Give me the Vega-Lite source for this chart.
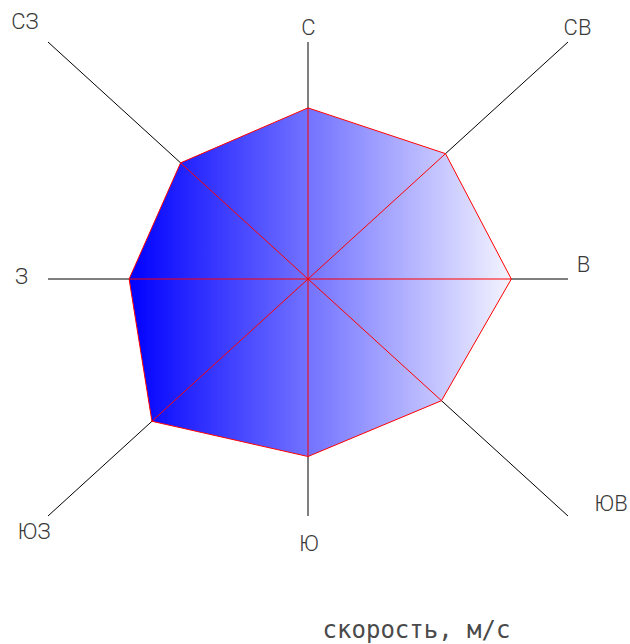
{
  "$schema": "https://vega.github.io/schema/vega-lite/v6.json",
  "width": 520,
  "height": 474,
  "autosize": {"type": "none"},
  "padding": {"left": 48, "top": 42, "right": 62, "bottom": 128},
  "background": "white",
  "config": {
    "view": {"stroke": null},
    "axisX": {"domain": false, "ticks": false, "labels": false, "grid": false,
      "titleX": 368, "titleY": 114, "titleAlign": "center", "titleBaseline": "middle",
      "titleFont": "DejaVu Sans Mono", "titleFontSize": 24, "titleFontWeight": "normal", "titleColor": "#4a4a4a"}
  },
  "datasets": {
    "wind": [
      {"dir": "С", "angle": 0, "speed": 7.22, "idx": 0},
      {"dir": "СВ", "angle": 45, "speed": 7.48, "idx": 1},
      {"dir": "В", "angle": 90, "speed": 7.82, "idx": 2},
      {"dir": "ЮВ", "angle": 135, "speed": 7.26, "idx": 3},
      {"dir": "Ю", "angle": 180, "speed": 7.49, "idx": 4},
      {"dir": "ЮЗ", "angle": 225, "speed": 8.49, "idx": 5},
      {"dir": "З", "angle": 270, "speed": 6.88, "idx": 6},
      {"dir": "СЗ", "angle": 315, "speed": 6.93, "idx": 7}
    ]
  },
  "data": {"name": "wind"},
  "transform": [
    {"calculate": "datum.speed*sin(datum.angle*PI/180)", "as": "px"},
    {"calculate": "datum.speed*cos(datum.angle*PI/180)", "as": "py"},
    {"calculate": "10*round(sin(datum.angle*PI/180))", "as": "ex"},
    {"calculate": "10*round(cos(datum.angle*PI/180))", "as": "ey"}
  ],
  "layer": [
    {
      "mark": {"type": "rule", "stroke": "black", "strokeWidth": 1},
      "encoding": {
        "x": {"field": "ex", "type": "quantitative", "title": "скорость, м/с", "scale": {"domain": [-10, 10], "nice": false, "zero": false}},
        "y": {"field": "ey", "type": "quantitative", "scale": {"domain": [-10, 10], "nice": false, "zero": false}, "axis": null},
        "x2": {"datum": 0},
        "y2": {"datum": 0}
      }
    },
    {
      "mark": {
        "type": "line",
        "interpolate": "linear-closed",
        "fill": {"gradient": "linear", "x1": 0, "y1": 0, "x2": 1, "y2": 0,
          "stops": [{"offset": 0, "color": "#0000ff"}, {"offset": 1, "color": "#f4f4ff"}]},
        "stroke": "#ff0000",
        "strokeWidth": 1
      },
      "encoding": {
        "x": {"field": "px", "type": "quantitative", "title": "скорость, м/с"},
        "y": {"field": "py", "type": "quantitative", "axis": null},
        "order": {"field": "idx", "type": "quantitative"}
      }
    },
    {
      "mark": {"type": "rule", "stroke": "#ff0000", "strokeWidth": 1},
      "encoding": {
        "x": {"field": "px", "type": "quantitative", "title": "скорость, м/с"},
        "y": {"field": "py", "type": "quantitative", "axis": null},
        "x2": {"datum": 0},
        "y2": {"datum": 0}
      }
    },
    {
      "transform": [{"filter": "datum.dir == 'С'"}],
      "mark": {"type": "text", "dx": 0.5, "dy": -14, "font": "Roboto", "fontWeight": 300, "fontSize": 22, "fill": "#3a3a3a", "align": "center", "baseline": "middle"},
      "encoding": {"x": {"field": "ex", "type": "quantitative", "title": "скорость, м/с"}, "y": {"field": "ey", "type": "quantitative", "axis": null}, "text": {"field": "dir"}}
    },
    {
      "transform": [{"filter": "datum.dir == 'СВ'"}],
      "mark": {"type": "text", "dx": 9.5, "dy": -14, "font": "Roboto", "fontWeight": 300, "fontSize": 22, "fill": "#3a3a3a", "align": "center", "baseline": "middle"},
      "encoding": {"x": {"field": "ex", "type": "quantitative", "title": "скорость, м/с"}, "y": {"field": "ey", "type": "quantitative", "axis": null}, "text": {"field": "dir"}}
    },
    {
      "transform": [{"filter": "datum.dir == 'В'"}],
      "mark": {"type": "text", "dx": 15.5, "dy": -14, "font": "Roboto", "fontWeight": 300, "fontSize": 22, "fill": "#3a3a3a", "align": "center", "baseline": "middle"},
      "encoding": {"x": {"field": "ex", "type": "quantitative", "title": "скорость, м/с"}, "y": {"field": "ey", "type": "quantitative", "axis": null}, "text": {"field": "dir"}}
    },
    {
      "transform": [{"filter": "datum.dir == 'ЮВ'"}],
      "mark": {"type": "text", "dx": 43, "dy": -12.5, "font": "Roboto", "fontWeight": 300, "fontSize": 22, "fill": "#3a3a3a", "align": "center", "baseline": "middle"},
      "encoding": {"x": {"field": "ex", "type": "quantitative", "title": "скорость, м/с"}, "y": {"field": "ey", "type": "quantitative", "axis": null}, "text": {"field": "dir"}}
    },
    {
      "transform": [{"filter": "datum.dir == 'Ю'"}],
      "mark": {"type": "text", "dx": 1, "dy": 27.5, "font": "Roboto", "fontWeight": 300, "fontSize": 22, "fill": "#3a3a3a", "align": "center", "baseline": "middle"},
      "encoding": {"x": {"field": "ex", "type": "quantitative", "title": "скорость, м/с"}, "y": {"field": "ey", "type": "quantitative", "axis": null}, "text": {"field": "dir"}}
    },
    {
      "transform": [{"filter": "datum.dir == 'ЮЗ'"}],
      "mark": {"type": "text", "dx": -14, "dy": 16, "font": "Roboto", "fontWeight": 300, "fontSize": 22, "fill": "#3a3a3a", "align": "center", "baseline": "middle"},
      "encoding": {"x": {"field": "ex", "type": "quantitative", "title": "скорость, м/с"}, "y": {"field": "ey", "type": "quantitative", "axis": null}, "text": {"field": "dir"}}
    },
    {
      "transform": [{"filter": "datum.dir == 'З'"}],
      "mark": {"type": "text", "dx": -26.5, "dy": -2, "font": "Roboto", "fontWeight": 300, "fontSize": 22, "fill": "#3a3a3a", "align": "center", "baseline": "middle"},
      "encoding": {"x": {"field": "ex", "type": "quantitative", "title": "скорость, м/с"}, "y": {"field": "ey", "type": "quantitative", "axis": null}, "text": {"field": "dir"}}
    },
    {
      "transform": [{"filter": "datum.dir == 'СЗ'"}],
      "mark": {"type": "text", "dx": -23, "dy": -20, "font": "Roboto", "fontWeight": 300, "fontSize": 22, "fill": "#3a3a3a", "align": "center", "baseline": "middle"},
      "encoding": {"x": {"field": "ex", "type": "quantitative", "title": "скорость, м/с"}, "y": {"field": "ey", "type": "quantitative", "axis": null}, "text": {"field": "dir"}}
    }
  ]
}
